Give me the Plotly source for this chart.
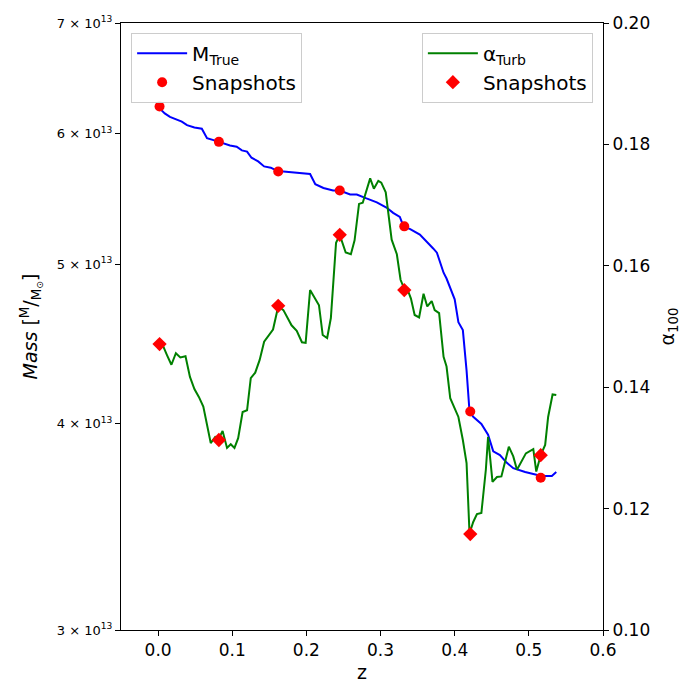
import math
import plotly.graph_objects as go

# ---- data ----
z_mass = [0.001, 0.009, 0.016, 0.032, 0.039, 0.049, 0.059, 0.066, 0.077, 0.090,
          0.097, 0.106, 0.113, 0.120, 0.126, 0.135, 0.143, 0.152, 0.162, 0.169,
          0.187, 0.205, 0.212, 0.223, 0.236, 0.245, 0.259, 0.268, 0.281, 0.295,
          0.308, 0.317, 0.326, 0.331, 0.340, 0.353, 0.371, 0.376, 0.385, 0.389,
          0.400, 0.405, 0.411, 0.416, 0.420, 0.425, 0.436, 0.445, 0.452, 0.461,
          0.470, 0.479, 0.495, 0.506, 0.517, 0.531, 0.537]
mass_e13 = [6.22, 6.17, 6.14, 6.10, 6.07, 6.05, 6.04, 5.96, 5.94, 5.91,
            5.90, 5.89, 5.86, 5.85, 5.80, 5.77, 5.73, 5.72, 5.69, 5.69,
            5.68, 5.67, 5.59, 5.56, 5.54, 5.54, 5.51, 5.51, 5.48, 5.45,
            5.41, 5.37, 5.34, 5.27, 5.25, 5.21, 5.11, 5.08, 4.94, 4.90,
            4.76, 4.61, 4.56, 4.31, 4.07, 4.04, 4.00, 3.94, 3.85, 3.83,
            3.79, 3.76, 3.74, 3.73, 3.72, 3.72, 3.74]

z_alpha = [0.001, 0.006, 0.012, 0.018, 0.024, 0.030, 0.037, 0.043, 0.049, 0.055,
           0.061, 0.066, 0.071, 0.077, 0.081, 0.087, 0.093, 0.098, 0.103, 0.108,
           0.114, 0.120, 0.125, 0.131, 0.137, 0.143, 0.155, 0.162, 0.169, 0.180,
           0.187, 0.194, 0.199, 0.205, 0.217, 0.222, 0.228, 0.233, 0.240, 0.245,
           0.253, 0.260, 0.265, 0.271, 0.276, 0.286, 0.291, 0.297, 0.301, 0.307,
           0.310, 0.315, 0.322, 0.327, 0.332, 0.337, 0.341, 0.346, 0.352, 0.358,
           0.363, 0.369, 0.373, 0.379, 0.385, 0.389, 0.394, 0.405, 0.411, 0.416,
           0.420, 0.425, 0.430, 0.436, 0.442, 0.445, 0.451, 0.457, 0.463, 0.473,
           0.479, 0.484, 0.496, 0.506, 0.510, 0.516, 0.522, 0.526, 0.532, 0.537]
alpha = [0.1471, 0.1470, 0.1453, 0.1437, 0.1456, 0.1449, 0.1451, 0.1417, 0.1397, 0.1384,
         0.1368, 0.1338, 0.1308, 0.1318, 0.1313, 0.1328, 0.1300, 0.1306, 0.1300, 0.1316,
         0.1359, 0.1362, 0.1415, 0.1424, 0.1445, 0.1475, 0.1495, 0.1533, 0.1527, 0.1502,
         0.1493, 0.1474, 0.1473, 0.1560, 0.1535, 0.1486, 0.1481, 0.1514, 0.1638, 0.1651,
         0.1622, 0.1619, 0.1642, 0.1702, 0.1704, 0.1744, 0.1727, 0.1740, 0.1737, 0.1721,
         0.1695, 0.1643, 0.1619, 0.1577, 0.1562, 0.1559, 0.1546, 0.1519, 0.1515, 0.1554,
         0.1533, 0.1542, 0.1527, 0.1522, 0.1450, 0.1434, 0.1382, 0.1351, 0.1313, 0.1275,
         0.1159, 0.1178, 0.1191, 0.1193, 0.1264, 0.1318, 0.1244, 0.1252, 0.1253, 0.1302,
         0.1286, 0.1264, 0.1291, 0.1298, 0.1261, 0.1288, 0.1305, 0.1351, 0.1388, 0.1387]

z_snap = [0.002, 0.082, 0.162, 0.245, 0.332, 0.421, 0.516]
mass_snap_e13 = [6.23, 5.93, 5.69, 5.54, 5.27, 4.07, 3.71]
alpha_snap = [0.1471, 0.1313, 0.1534, 0.1651, 0.1560, 0.1158, 0.1288]

mass_ticks_e13 = [3, 4, 5, 6, 7]
x_ticks = [0.0, 0.1, 0.2, 0.3, 0.4, 0.5, 0.6]
alpha_ticks = [0.10, 0.12, 0.14, 0.16, 0.18, 0.20]

FONT = "DejaVu Sans"

fig = go.Figure()
fig.add_trace(go.Scatter(x=z_mass, y=[m * 1e13 for m in mass_e13], mode="lines",
                         line=dict(color="#0000ff", width=2),
                         name="M<sub>True</sub>", legend="legend"))
fig.add_trace(go.Scatter(x=z_snap, y=[m * 1e13 for m in mass_snap_e13], mode="markers",
                         marker=dict(color="#ff0000", size=10, symbol="circle"),
                         name="Snapshots", legend="legend"))
fig.add_trace(go.Scatter(x=z_alpha, y=alpha, mode="lines", yaxis="y2",
                         line=dict(color="#008000", width=2),
                         name="α<sub>Turb</sub>", legend="legend2"))
fig.add_trace(go.Scatter(x=z_snap, y=alpha_snap, mode="markers", yaxis="y2",
                         marker=dict(color="#ff0000", size=11, symbol="diamond"),
                         name="Snapshots", legend="legend2"))

axis_common = dict(showline=True, linecolor="black", linewidth=1,
                   ticks="outside", ticklen=5, tickcolor="black", showgrid=False,
                   zeroline=False, automargin=False)

legend_common = dict(y=0.984, yanchor="top", bgcolor="rgba(255,255,255,0.8)",
                     bordercolor="#cccccc", borderwidth=1, itemwidth=50,
                     font=dict(size=20, family=FONT))

fig.update_layout(
    width=692, height=692,
    margin=dict(l=113, r=97, t=15, b=70),
    paper_bgcolor="white", plot_bgcolor="white",
    font=dict(family=FONT, color="black"),
    xaxis=dict(range=[-0.05, 0.6], tickvals=x_ticks,
               ticktext=[f"{v:.1f}" for v in x_ticks], mirror=True,
               tickfont=dict(size=17), title=dict(text="z", font=dict(size=19), standoff=6),
               **axis_common),
    yaxis=dict(type="log", range=[math.log10(3e13), math.log10(7e13)],
               tickvals=[t * 1e13 for t in mass_ticks_e13],
               ticktext=[f"{t} × 10<sup>13</sup>" for t in mass_ticks_e13],
               tickfont=dict(size=13),
               title=dict(text="<i>Mass</i> [<sup>M</sup>/<sub>M<sub>⊙</sub></sub>]",
                          font=dict(size=19), standoff=14),
               **axis_common),
    yaxis2=dict(overlaying="y", side="right", range=[0.10, 0.20],
                tickvals=alpha_ticks, ticktext=[f"{v:.2f}" for v in alpha_ticks],
                tickfont=dict(size=17),
                title=dict(text="α<sub>100</sub>", font=dict(size=19), standoff=11),
                **axis_common),
    legend=dict(x=0.021, xanchor="left", **legend_common),
    legend2=dict(x=0.979, xanchor="right", **legend_common),
)

fig.write_html("out.html")
